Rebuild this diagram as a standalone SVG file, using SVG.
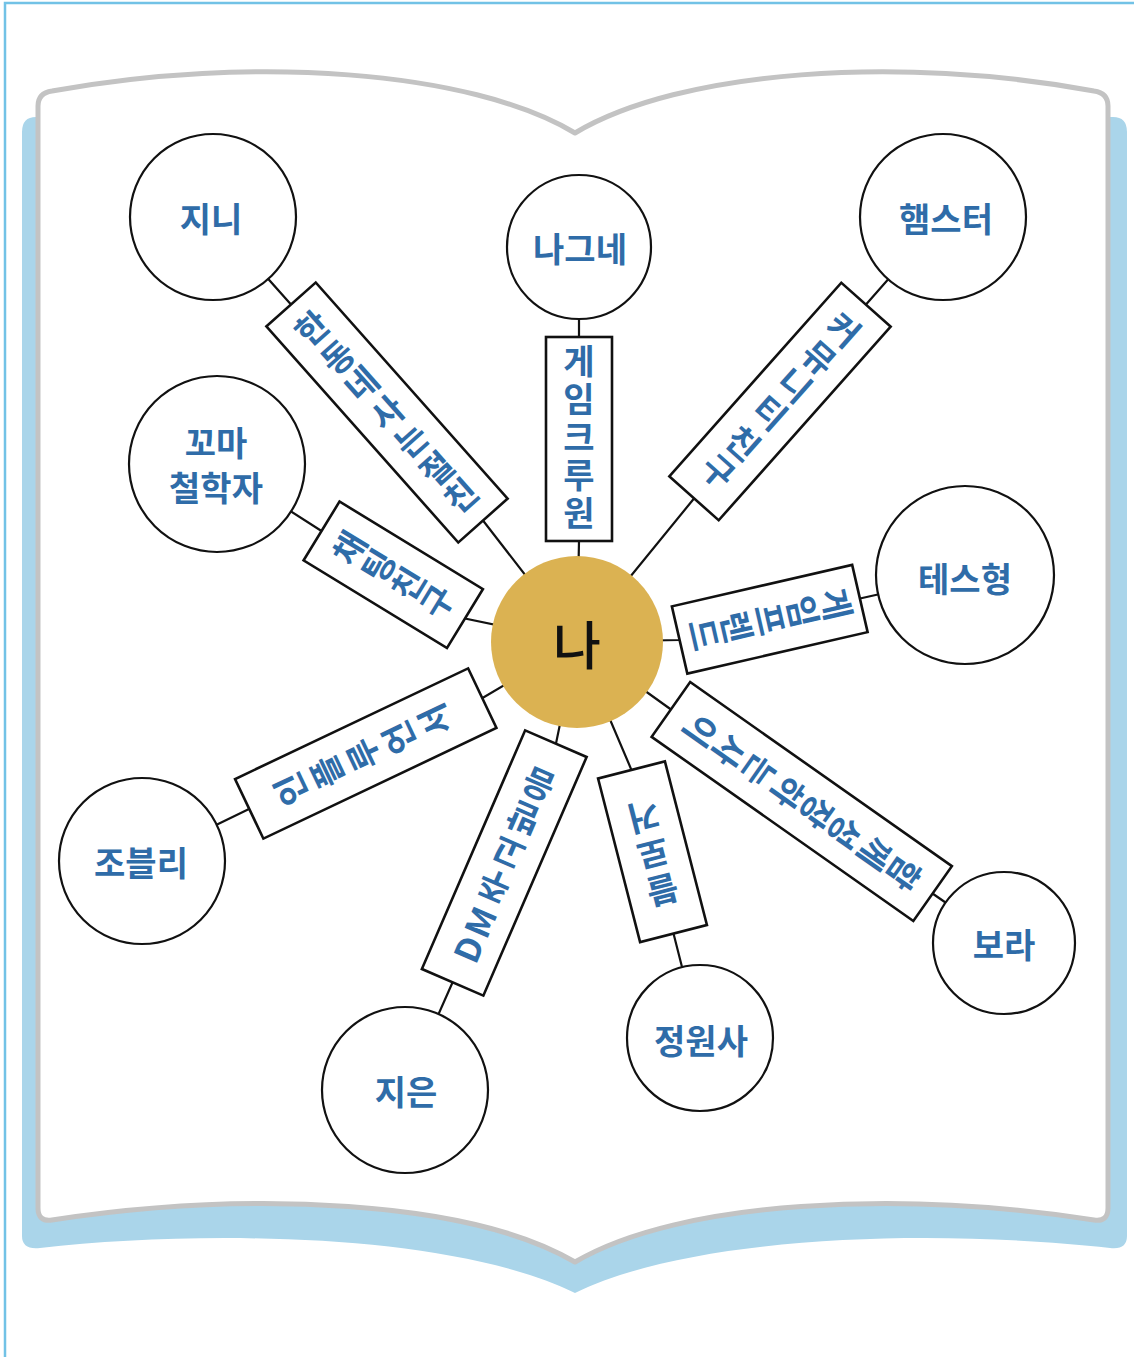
<svg xmlns="http://www.w3.org/2000/svg" width="1134" height="1357" viewBox="0 0 1134 1357">
<style>
.frame{fill:none;stroke:#72c2e6;stroke-width:2.5}
.shadow{fill:#aad5ea}
.page{fill:#fff;stroke:#c3c3c3;stroke-width:5;stroke-linejoin:round}
.conn polyline{fill:none;stroke:#111;stroke-width:2.2}
.box rect{fill:#fff;stroke:#111;stroke-width:2.6}
.bl{font-family:"Noto Sans CJK KR","Noto Sans",sans-serif;font-size:34px;font-weight:700;fill:#2f6ca8;writing-mode:vertical-rl;text-anchor:middle;word-spacing:-7px}
.node circle{fill:#fff;stroke:#111;stroke-width:2.2}
.nl{font-family:"Noto Sans CJK KR","Noto Sans",sans-serif;font-size:34px;font-weight:700;fill:#2f6ca8;text-anchor:middle;dominant-baseline:central}
</style>
<path class="frame" d="M5,1357 V3 H1134"/>
<g id="book">
<path class="shadow" d="M22,132 Q22,117 36,117 L300,117 L575,175 L850,117 L1113,117 Q1127,117 1127,132 L1127,1236 Q1127,1250 1110,1248 C950,1230 700,1232 575,1293 C450,1232 200,1230 40,1248 Q22,1250 22,1236 Z"/>
<path class="page" d="M38,106 Q38,93 52,91 C250,55 470,70 575,133 C680,70 900,55 1094,91 Q1108,93 1108,106 L1108,1208 Q1108,1222 1094,1220 C900,1190 680,1200 575,1262 C470,1200 250,1190 52,1220 Q38,1222 38,1208 Z"/>
</g>
<g id="connectors" class="conn">
<polyline points="213,217 291,304.5 483,520.5 577,642"/>
<polyline points="579,247 579,337 579,541 577,642"/>
<polyline points="943,217 866,304.5 694,498.5 577,642"/>
<polyline points="217,464 321.5,531 465,618.5 577,642"/>
<polyline points="965,575 860,598.5 679.5,640 577,642"/>
<polyline points="142,861 249,809 482.5,698 577,642"/>
<polyline points="405,1090 452.5,982.5 556,743.5 577,642"/>
<polyline points="700,1038 673.5,933.5 631.5,770 577,642"/>
<polyline points="1004,943 932.5,893.5 671,709.5 577,642"/>
</g>
<g id="edge-labels" class="box">
<g id="label-jini" transform="translate(387,412.5) rotate(-41.6)"><rect x="-33" y="-144.5" width="66" height="289"/><text class="bl" x="0" y="0" style="letter-spacing:2px">한 동네 사는 절친</text></g>
<g id="label-nagne" transform="translate(579,439)"><rect x="-33" y="-102" width="66" height="204"/><text class="bl" x="0" y="0" style="letter-spacing:4px">게임크루원</text></g>
<g id="label-hamster" transform="translate(780,401.5) rotate(41.6)"><rect x="-33" y="-129.5" width="66" height="259"/><text class="bl" x="0" y="0" style="letter-spacing:3px">커뮤니티 친구</text></g>
<g id="label-kkoma" transform="translate(393.25,574.75) rotate(-58.6)"><rect x="-34.5" y="-84" width="69" height="168"/><text class="bl" x="0" y="0" style="letter-spacing:0px">채팅 친구</text></g>
<g id="label-tes" transform="translate(769.75,619.25) rotate(77.05)"><rect x="-34.5" y="-92.5" width="69" height="185"/><text class="bl" x="0" y="0" style="letter-spacing:0px">게임프렌드</text></g>
<g id="label-jobly" transform="translate(365.75,753.5) rotate(-115.4)"><rect x="-33" y="-129" width="66" height="258"/><text class="bl" x="0" y="0" style="letter-spacing:6px">인플루언서</text></g>
<g id="label-jieun" transform="translate(504.25,863) rotate(-156.6)"><rect x="-33.5" y="-130" width="67" height="260"/><text class="bl" x="0" y="0" style="letter-spacing:3px">DM 주고받음</text></g>
<g id="label-gardener" transform="translate(652.5,851.75) rotate(165.6)"><rect x="-34.5" y="-84.5" width="69" height="169"/><text class="bl" x="0" y="0" style="letter-spacing:4px">블로거</text></g>
<g id="label-bora" transform="translate(801.75,801.5) rotate(125.13)"><rect x="-33.5" y="-160" width="67" height="320"/><text class="bl" x="0" y="0" style="letter-spacing:1px">함께 성장하는 사이</text></g>
</g>
<g id="node-me"><circle cx="577" cy="642" r="86" fill="#dbb252"/><text x="577" y="642" style="font-family:'Noto Sans CJK KR',sans-serif;font-size:52px;font-weight:500;fill:#111;text-anchor:middle;dominant-baseline:central">나</text></g>
<g id="node-jini" class="node"><circle cx="213" cy="217" r="83"/><text class="nl" x="211" y="217">지니</text></g>
<g id="node-nagne" class="node"><circle cx="579" cy="247" r="72"/><text class="nl" x="580" y="247">나그네</text></g>
<g id="node-hamster" class="node"><circle cx="943" cy="217" r="83"/><text class="nl" x="946" y="217">햄스터</text></g>
<g id="node-kkoma" class="node"><circle cx="217" cy="464" r="88"/><text class="nl" x="216" y="441">꼬마</text><text class="nl" x="216" y="486">철학자</text></g>
<g id="node-tes" class="node"><circle cx="965" cy="575" r="89"/><text class="nl" x="965" y="577">테스형</text></g>
<g id="node-jobly" class="node"><circle cx="142" cy="861" r="83"/><text class="nl" x="141" y="861">조블리</text></g>
<g id="node-jieun" class="node"><circle cx="405" cy="1090" r="83"/><text class="nl" x="406" y="1090">지은</text></g>
<g id="node-gardener" class="node"><circle cx="700" cy="1038" r="73"/><text class="nl" x="701" y="1039">정원사</text></g>
<g id="node-bora" class="node"><circle cx="1004" cy="943" r="71"/><text class="nl" x="1004" y="943">보라</text></g>
</svg>
